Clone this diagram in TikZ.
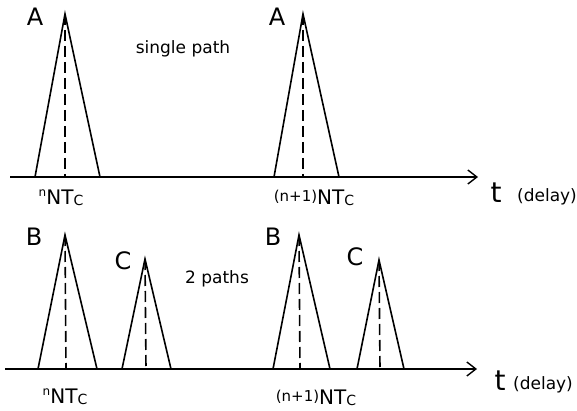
\documentclass[tikz,border=0pt]{standalone}
\usepackage{fontspec}
\setmainfont{DejaVu Sans}
\usetikzlibrary{arrows.meta}
\begin{document}
\begin{tikzpicture}[x=1pt,y=-1pt,
  pulse/.style={line width=1.6pt,line join=miter},
  peakdash/.style={line width=1.6pt,dash pattern=on 11pt off 5pt},
  axisline/.style={line width=1.6pt,-{Straight Barb[length=9pt,width=14pt,line width=1.4pt]}},
  biglab/.style={anchor=base,inner sep=0pt,font=\fontsize{24}{24}\selectfont},
  smalllab/.style={anchor=base,inner sep=0pt,font=\fontsize{17}{17}\selectfont},
  ticklab/.style={anchor=base,inner sep=0pt,font=\fontsize{20}{20}\selectfont},
  tlab/.style={anchor=base,inner sep=0pt,font=\fontsize{28}{28}\selectfont}]
\useasboundingbox (0,0) rectangle (577,411);
\newcommand{\nNT}{\raisebox{8pt}{\fontsize{12}{12}\selectfont n}NT\raisebox{-1pt}{\fontsize{14}{14}\selectfont C}}
\newcommand{\nnNT}{\raisebox{3pt}{\fontsize{15}{15}\selectfont (n+1)}NT\raisebox{-1pt}{\fontsize{14}{14}\selectfont C}}
% ---- top: single path
\coordinate (ax1s) at (10,177);
\coordinate (ax1e) at (478,177);
\coordinate (a1t) at (65,14);  \coordinate (a1l) at (35,177);  \coordinate (a1r) at (100,177); \coordinate (a1f) at (65,177);
\coordinate (a2t) at (303,14); \coordinate (a2l) at (274,177); \coordinate (a2r) at (339,177); \coordinate (a2f) at (303,177);
\draw[axisline] (ax1s) -- (ax1e);
\draw[pulse] (a1l) -- (a1t) -- (a1r);
\draw[peakdash] (a1t) -- (a1f);
\draw[pulse] (a2l) -- (a2t) -- (a2r);
\draw[peakdash] (a2t) -- (a2f);
\node[biglab] (A1) at (35,26) {A};
\node[biglab] (A2) at (277,26) {A};
\node[smalllab] (sp) at (183,54) {single path};
\node[ticklab] (n1) at (61,205) {\nNT};
\node[ticklab] (nn1) at (314,205) {\nnNT};
\node[tlab] (t1) at (496,203) {t};
\node[smalllab] (d1) at (547,202) {(delay)};
% ---- bottom: 2 paths
\coordinate (ax2s) at (5,369);
\coordinate (ax2e) at (477,369);
\coordinate (b1t) at (65,235);  \coordinate (b1l) at (38,369);  \coordinate (b1r) at (97,369);  \coordinate (b1f) at (66,369);
\coordinate (c1t) at (145,259); \coordinate (c1l) at (122,369); \coordinate (c1r) at (171,369); \coordinate (c1f) at (146,369);
\coordinate (b2t) at (299,235); \coordinate (b2l) at (273,369); \coordinate (b2r) at (330,369); \coordinate (b2f) at (300,369);
\coordinate (c2t) at (379,260); \coordinate (c2l) at (357,369); \coordinate (c2r) at (404,369); \coordinate (c2f) at (380,369);
\draw[axisline] (ax2s) -- (ax2e);
\draw[pulse] (b1l) -- (b1t) -- (b1r);
\draw[peakdash] (b1t) -- (b1f);
\draw[pulse] (c1l) -- (c1t) -- (c1r);
\draw[peakdash] (c1t) -- (c1f);
\draw[pulse] (b2l) -- (b2t) -- (b2r);
\draw[peakdash] (b2t) -- (b2f);
\draw[pulse] (c2l) -- (c2t) -- (c2r);
\draw[peakdash] (c2t) -- (c2f);
\node[biglab] (B1) at (34,245) {B};
\node[biglab] (C1) at (123,269) {C};
\node[biglab] (B2) at (273,245) {B};
\node[biglab] (C2) at (355,265) {C};
\node[smalllab] (tp) at (217,283) {2 paths};
\node[ticklab] (n2) at (65,403) {\nNT};
\node[ticklab] (nn2) at (316,404) {\nnNT};
\node[tlab] (t2) at (500,390) {t};
\node[smalllab] (d2) at (543,389) {(delay)};
\end{tikzpicture}
\end{document}
